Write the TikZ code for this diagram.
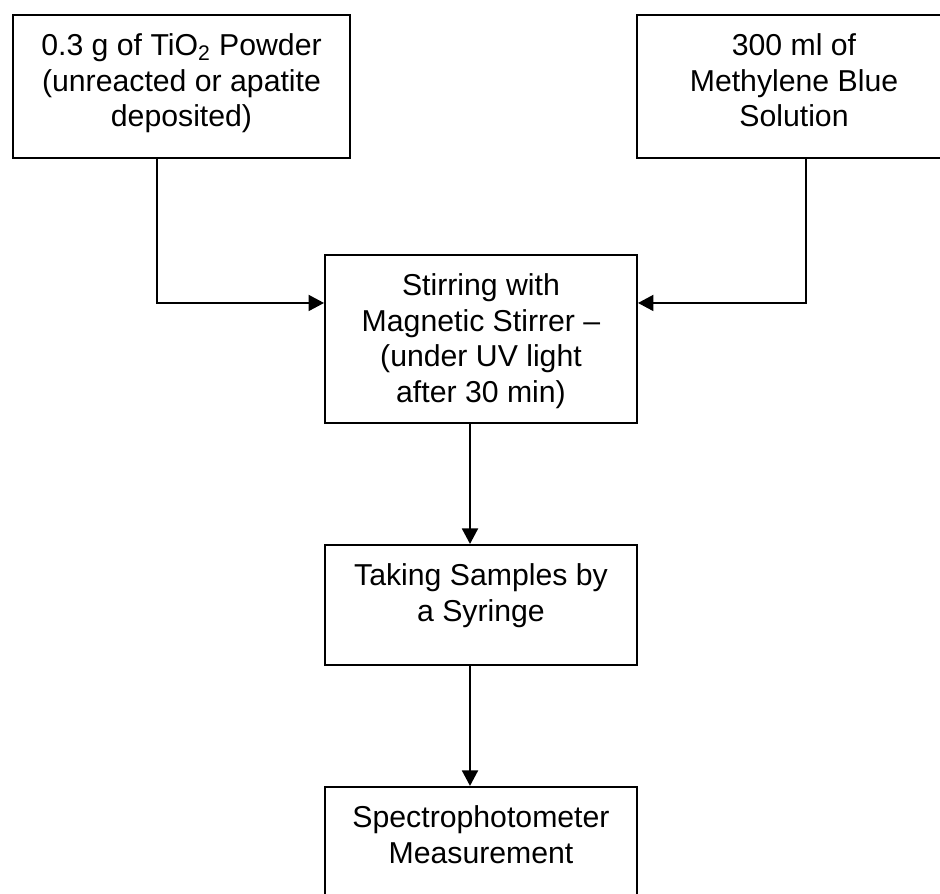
\documentclass[tikz,border=0pt]{standalone}
\usepackage{fontspec}
\setmainfont{Liberation Sans}
\usepackage{tikz}
\usetikzlibrary{positioning,arrows.meta}
\newcommand{\stagetext}[3]{\parbox[t][#2][t]{#1}{\centering\rule{0pt}{0.82cm}#3}}

\begin{document}
\begin{tikzpicture}[font=\fontsize{17.2}{20.2}\selectfont,
  stage/.style={draw=black, line width=1.1pt, inner sep=0pt, anchor=north},
  arr/.style={-{Triangle[length=3.1mm,width=3.2mm]}, draw=black, line width=1.1pt}]
\clip (0,0) rectangle (18.8,-17.86);
% inputs
\node[stage] (tio) at (3.63,-0.28) {\stagetext{6.74cm}{2.86cm}{0.3 g of TiO\textsubscript{2} Powder\\(unreacted or apatite\\deposited)}};
\node[stage] (mb) at (15.88,-0.28) {\stagetext{6.28cm}{2.86cm}{300 ml of\\Methylene Blue\\Solution}};
% process steps
\node[stage] (stir) at (9.62,-5.08) {\stagetext{6.24cm}{3.36cm}{Stirring with\\Magnetic Stirrer --\\(under UV light\\after 30 min)}};
\node[stage] (syr) at ([yshift=-2.4cm]stir.south) {\stagetext{6.24cm}{2.4cm}{Taking Samples by\\a Syringe}};
\node[stage] (spec) at ([yshift=-2.4cm]syr.south) {\stagetext{6.24cm}{2.4cm}{Spectrophotometer\\Measurement}};
\draw[arr] ([xshift=-0.49cm]tio.south) |- ([yshift=0.72cm]stir.west);
\draw[arr] ([xshift=0.24cm]mb.south) |- ([yshift=0.72cm]stir.east);
\draw[arr] ([xshift=-0.22cm]stir.south) -- ([xshift=-0.22cm]syr.north);
\draw[arr] ([xshift=-0.22cm]syr.south) -- ([xshift=-0.22cm]spec.north);
\end{tikzpicture}
\end{document}
